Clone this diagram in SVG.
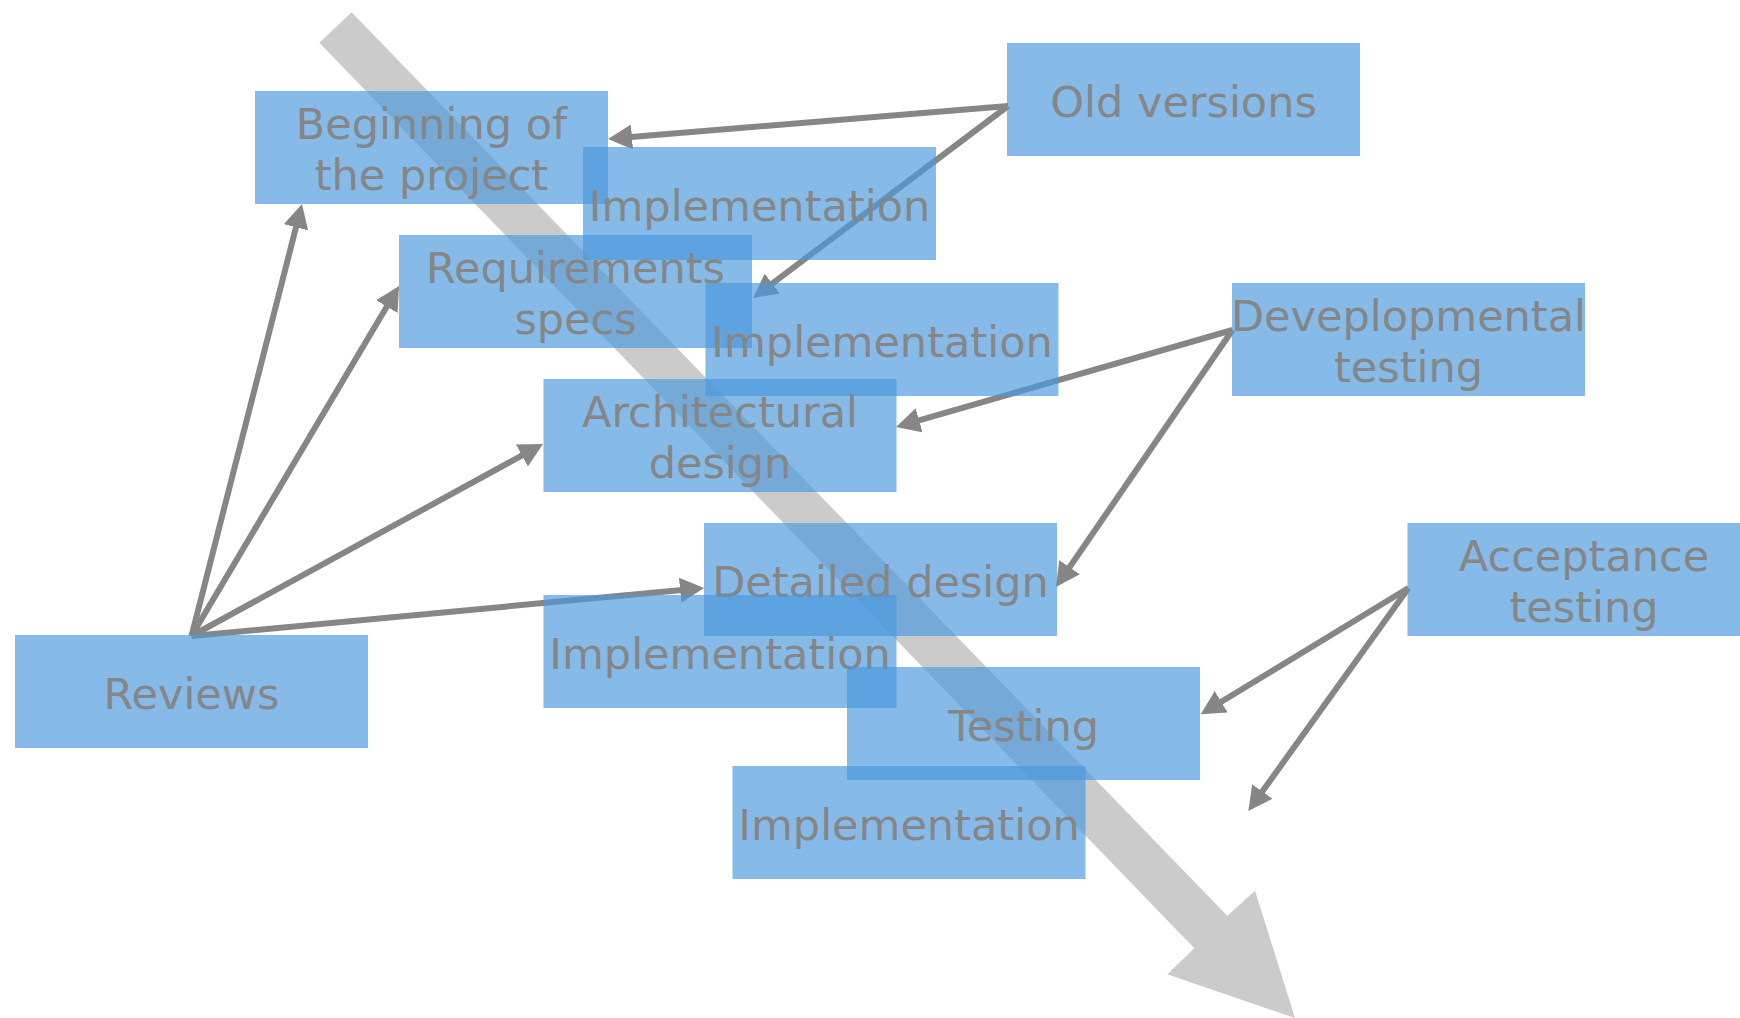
<svg xmlns="http://www.w3.org/2000/svg" width="1740" height="1018" viewBox="0 0 1740 1018">
  <defs>
    <style>
      .box { fill: #4a98dd; fill-opacity: 0.67; }
      .lbl { font-family: "DejaVu Sans", Verdana, sans-serif; font-size: 43px; fill: #868686; text-anchor: middle; }
      .conn { stroke: #868686; stroke-width: 6; fill: none; marker-end: url(#head); }
    </style>
    <marker id="head" markerUnits="userSpaceOnUse" viewBox="0 0 24 25" markerWidth="24" markerHeight="25" refX="10" refY="12.5" orient="auto">
      <path d="M0,0 L24,12.5 L0,25 z" fill="#868686"/>
    </marker>
  </defs>

  <rect width="1740" height="1018" fill="#ffffff"/>

  <!-- time axis: broad grey arrow running top-left to bottom-right -->
  <polygon id="timeline" fill="#cbcbcb" points="351.6,12.3 1227.3,915.7 1255,890.7 1295,1018 1167.3,974.3 1194.3,948.3 319.4,42.7"/>

  <g id="connectors">
    <line class="conn" x1="191.5" y1="636" x2="298.5" y2="217.6"/>
    <line class="conn" x1="191.5" y1="636" x2="391.9" y2="298.0"/>
    <line class="conn" x1="191.5" y1="636" x2="530.7" y2="450.7"/>
    <line class="conn" x1="191.5" y1="636" x2="690.1" y2="589.3"/>
    <line class="conn" x1="1008" y1="106" x2="622.0" y2="137.8"/>
    <line class="conn" x1="1008" y1="106" x2="764.2" y2="289.6"/>
    <line class="conn" x1="1232.5" y1="330" x2="909.5" y2="423.1"/>
    <line class="conn" x1="1232.5" y1="330" x2="1063.9" y2="575.5"/>
    <line class="conn" x1="1408.5" y1="588" x2="1212.7" y2="707.0"/>
    <line class="conn" x1="1408.5" y1="588" x2="1256.5" y2="799.6"/>
  </g>

  <g id="beginning">
    <rect class="box" x="255" y="91" width="353" height="113"/>
    <text class="lbl" x="431.5" y="139">Beginning of</text>
    <text class="lbl" x="431.5" y="190">the project</text>
  </g>
  <g id="implementation-1">
    <rect class="box" x="583" y="147" width="353" height="113"/>
    <text class="lbl" x="759.5" y="220.5">Implementation</text>
  </g>
  <g id="requirements">
    <rect class="box" x="399" y="235" width="353" height="113"/>
    <text class="lbl" x="575.5" y="283">Requirements</text>
    <text class="lbl" x="575.5" y="334">specs</text>
  </g>
  <g id="implementation-2">
    <rect class="box" x="705.5" y="283" width="353" height="113"/>
    <text class="lbl" x="882" y="356.5">Implementation</text>
  </g>
  <g id="architectural">
    <rect class="box" x="543.5" y="379" width="353" height="113"/>
    <text class="lbl" x="720" y="427">Architectural</text>
    <text class="lbl" x="720" y="478">design</text>
  </g>
  <g id="detailed">
    <rect class="box" x="704" y="523" width="353" height="113"/>
    <text class="lbl" x="880.5" y="596.5">Detailed design</text>
  </g>
  <g id="implementation-3">
    <rect class="box" x="543.5" y="595" width="353" height="113"/>
    <text class="lbl" x="720" y="668.5">Implementation</text>
  </g>
  <g id="testing">
    <rect class="box" x="847" y="667" width="353" height="113"/>
    <text class="lbl" x="1023.5" y="740.5">Testing</text>
  </g>
  <g id="implementation-4">
    <rect class="box" x="732.5" y="766" width="353" height="113"/>
    <text class="lbl" x="909" y="839.5">Implementation</text>
  </g>
  <g id="reviews">
    <rect class="box" x="15" y="635" width="353" height="113"/>
    <text class="lbl" x="191.5" y="708.5">Reviews</text>
  </g>
  <g id="old-versions">
    <rect class="box" x="1007" y="43" width="353" height="113"/>
    <text class="lbl" x="1183.5" y="116.5">Old versions</text>
  </g>
  <g id="developmental">
    <rect class="box" x="1232" y="283" width="353" height="113"/>
    <text class="lbl" x="1408.5" y="331">Deveplopmental</text>
    <text class="lbl" x="1408.5" y="382">testing</text>
  </g>
  <g id="acceptance">
    <rect class="box" x="1407.5" y="523" width="353" height="113"/>
    <text class="lbl" x="1584" y="571">Acceptance</text>
    <text class="lbl" x="1584" y="622">testing</text>
  </g>
</svg>
